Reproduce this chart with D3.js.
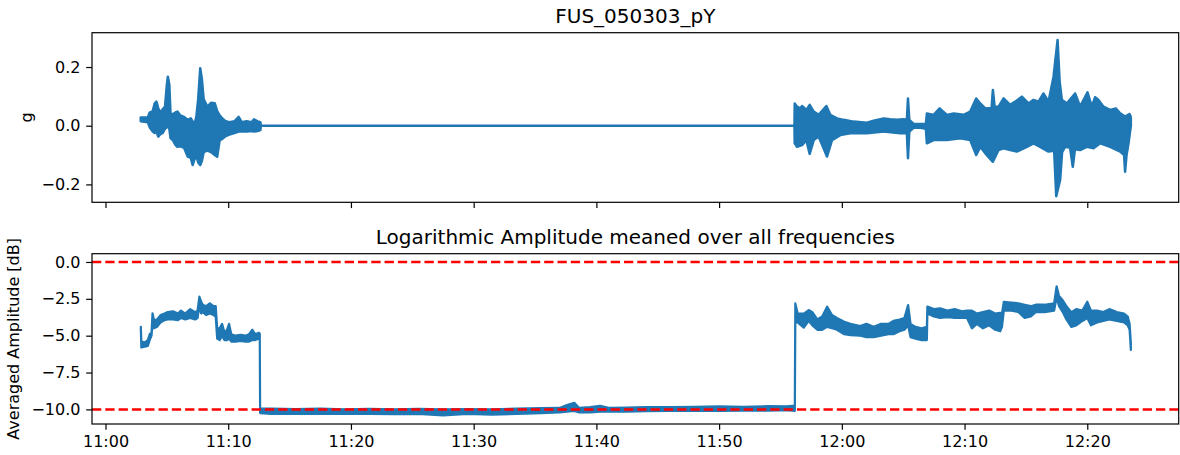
<!DOCTYPE html>
<html>
<head>
<meta charset="utf-8">
<script src="https://cdn.jsdelivr.net/npm/d3@7"></script>
<style>
  html, body { margin: 0; padding: 0; background: #fff; }
  svg { display: block; font-family: "DejaVu Sans", sans-serif; }
</style>
</head>
<body>
<svg id="chart" width="1180" height="455"></svg>
<script>
// Recording start (times below are minutes after 11:00)
const baseTime = new Date(2005, 2, 3, 11, 0, 0);

// Acceleration signal (g): upper envelope
const accUpT = [2.87, 3.45, 3.6, 3.85, 4.0, 4.15, 4.3, 4.45, 4.65, 4.85, 5.0, 5.08, 5.2, 5.3, 5.5, 5.7, 5.86, 6.1, 6.4, 6.7, 6.95, 7.1, 7.25, 7.4, 7.55, 7.72, 7.85, 8.0, 8.3, 8.6, 8.9, 9.1, 9.3, 9.5, 9.8, 10.1, 10.5, 10.85, 11.1, 11.5, 11.9, 12.1, 12.4, 12.62, 12.66,
  56.14, 56.16, 56.35, 56.62, 56.76, 57.11, 57.38, 57.71, 58.11, 58.74, 59.06, 59.61, 60.15, 60.96, 62.05, 62.59, 63.41, 63.95, 64.49, 65.03, 65.3, 65.39, 65.5, 65.85, 66.39, 66.85, 66.93, 67.48, 67.97, 68.56, 69.11, 69.92, 70.46, 70.95, 71.28, 71.69, 72.2, 72.31, 72.45, 72.77, 73.18, 73.72, 74.13, 74.67, 75.21, 75.62, 76.03, 76.43, 76.84, 77.25, 77.58, 77.75, 77.93, 78.34, 79.01, 79.42, 80.02, 80.37, 80.64, 80.91, 81.32, 81.86, 82.32, 82.68, 83.08, 83.44, 83.55];
const accUpV = [0.028, 0.028, 0.045, 0.05, 0.075, 0.082, 0.06, 0.045, 0.055, 0.065, 0.14, 0.167, 0.14, 0.04, 0.04, 0.045, 0.048, 0.035, 0.03, 0.02, 0.025, 0.015, 0.005, 0.03, 0.09, 0.196, 0.16, 0.09, 0.065, 0.078, 0.077, 0.05, 0.035, 0.026, 0.015, 0.012, 0.015, 0.03, 0.012, 0.015, 0.012, 0.022, 0.015, 0.012, 0,
  0, 0.076, 0.065, 0.059, 0.067, 0.054, 0.071, 0.048, 0.037, 0.067, 0.037, 0.025, 0.02, 0.014, 0.01, 0.017, 0.025, 0.022, 0.02, 0.022, 0.02, 0.093, 0.02, 0.006, 0.006, 0.006, 0.042, 0.037, 0.059, 0.037, 0.042, 0.037, 0.048, 0.093, 0.076, 0.059, 0.06, 0.122, 0.065, 0.065, 0.093, 0.071, 0.082, 0.099, 0.076, 0.088, 0.082, 0.11, 0.082, 0.167, 0.292, 0.15, 0.088, 0.076, 0.11, 0.065, 0.114, 0.065, 0.097, 0.088, 0.065, 0.054, 0.059, 0.042, 0.031, 0.04, 0.03];

// Acceleration signal (g): lower envelope
const accLoT = [2.87, 3.45, 3.6, 3.85, 4.0, 4.15, 4.3, 4.45, 4.65, 4.85, 5.0, 5.08, 5.2, 5.3, 5.5, 5.7, 5.86, 6.1, 6.4, 6.7, 6.95, 7.1, 7.25, 7.4, 7.55, 7.72, 7.85, 8.0, 8.3, 8.6, 8.9, 9.1, 9.3, 9.5, 9.8, 10.1, 10.5, 10.85, 11.1, 11.5, 11.9, 12.1, 12.4, 12.62, 12.66,
  56.14, 56.16, 56.35, 56.76, 57.11, 57.38, 57.71, 58.11, 58.79, 59.2, 59.88, 60.69, 62.05, 63.41, 64.76, 65.3, 65.39, 65.5, 65.85, 66.39, 66.85, 66.93, 67.48, 68.56, 69.65, 70.46, 70.95, 71.28, 71.69, 72.31, 72.77, 73.18, 73.72, 74.26, 75.08, 75.62, 76.16, 76.84, 77.3, 77.47, 77.79, 77.95, 78.2, 78.6, 78.82, 79.0, 79.42, 79.96, 80.51, 81.05, 81.86, 82.68, 83.0, 83.08, 83.2, 83.36, 83.55];
const accLoV = [0.015, 0.012, -0.005, -0.02, -0.025, -0.02, -0.037, -0.03, -0.025, -0.01, -0.005, 0.0, -0.01, -0.042, -0.05, -0.065, -0.072, -0.07, -0.075, -0.105, -0.11, -0.134, -0.115, -0.1, -0.125, -0.134, -0.12, -0.09, -0.085, -0.09, -0.1, -0.106, -0.05, -0.045, -0.035, -0.03, -0.025, -0.02, -0.02, -0.02, -0.018, -0.02, -0.018, -0.015, 0,
  0, -0.06, -0.072, -0.066, -0.049, -0.096, -0.049, -0.037, -0.105, -0.049, -0.032, -0.026, -0.026, -0.02, -0.026, -0.026, -0.111, -0.02, -0.007, -0.007, -0.01, -0.06, -0.049, -0.049, -0.043, -0.049, -0.1, -0.072, -0.094, -0.123, -0.083, -0.077, -0.083, -0.088, -0.072, -0.06, -0.072, -0.088, -0.085, -0.24, -0.185, -0.09, -0.072, -0.075, -0.14, -0.08, -0.083, -0.072, -0.077, -0.06, -0.072, -0.088, -0.1, -0.157, -0.1, -0.06, 0.0];

// Log amplitude meaned over all frequencies (dB): time, upper and lower extent
const ampT = [2.88, 2.92, 3.2, 3.45, 3.6, 3.75, 3.83, 3.95, 4.2, 4.5, 4.8, 5.07, 5.5, 5.9, 6.15, 6.5, 6.9, 7.3, 7.5, 7.65, 7.8, 7.92, 8.2, 8.5, 8.8, 8.98, 9.1, 9.3, 9.5, 9.7, 9.9, 10.07, 10.25, 10.6, 11.0, 11.4, 11.7, 11.97, 12.2, 12.5, 12.57,
  12.6, 13.5, 15.5, 17.5, 19.5, 21.5, 23.5, 25.5, 27.5, 29.5, 31.5, 33.5, 35.5, 37.0, 37.6, 38.2, 38.6, 39.5, 40.3, 41.0, 42.5, 44, 46, 48, 50, 52, 54, 55.5, 56.17,
  56.21, 56.4, 56.9, 57.3, 57.6, 58.0, 58.4, 58.8, 59.2, 59.6, 60.2, 60.7, 61.5, 62.0, 62.6, 63.2, 63.8, 64.2, 64.7, 65.1, 65.4, 65.6, 66.0, 66.5, 66.93, 66.97, 67.5, 68.0, 68.6, 69.2, 69.8, 70.2, 70.6, 71.0, 71.5, 72.0, 72.5, 72.9, 73.05, 73.2, 73.8, 74.4, 74.9, 75.4, 75.8, 76.5, 77.3, 77.5, 77.7, 78.0, 78.3, 78.7, 79.1, 79.6, 80.0, 80.3, 80.8, 81.3, 81.8, 82.4, 83.0, 83.3, 83.45, 83.55];
const ampHi = [-4.4, -5.4, -5.45, -5.3, -4.9, -4.8, -3.48, -3.94, -3.9, -3.6, -3.5, -3.4, -3.35, -3.5, -3.3, -3.5, -3.2, -3.4, -3.3, -2.35, -2.7, -2.9, -3.0, -2.8, -3.0, -3.0, -4.5, -4.5, -4.2, -4.8, -4.6, -4.2, -4.9, -5.0, -4.95, -5.0, -4.9, -4.6, -4.9, -4.8, -4.85,
  -9.95, -9.95, -9.98, -9.95, -10.0, -9.97, -10.0, -9.97, -10.0, -9.98, -10.0, -9.95, -9.92, -9.9, -9.7, -9.55, -9.9, -9.85, -9.75, -9.9, -9.88, -9.85, -9.85, -9.82, -9.8, -9.82, -9.78, -9.8, -9.75,
  -2.81, -3.48, -3.5, -3.26, -3.4, -3.9, -3.7, -3.03, -3.6, -3.8, -4.05, -4.2, -4.35, -4.2, -4.4, -4.2, -4.2, -4.0, -3.9, -3.8, -2.92, -4.2, -4.4, -4.5, -4.4, -3.03, -3.2, -3.15, -3.3, -3.2, -3.35, -3.3, -3.3, -3.5, -3.4, -3.3, -3.5, -3.45, -3.5, -2.7, -2.75, -2.8, -2.9, -3.0, -2.9, -2.9, -2.8, -1.65, -2.3, -2.6, -3.0, -3.4, -3.2, -3.3, -2.7, -3.3, -3.3, -3.4, -3.2, -3.4, -3.5, -3.7, -4.2, -5.5];
const ampLo = [-4.6, -5.8, -5.75, -5.7, -5.3, -5.0, -4.2, -4.5, -4.4, -4.1, -3.95, -3.9, -3.9, -3.95, -3.8, -3.9, -3.8, -3.9, -3.8, -3.0, -3.5, -3.4, -3.6, -3.5, -3.6, -3.7, -5.2, -5.3, -5.0, -5.3, -5.3, -5.2, -5.4, -5.4, -5.35, -5.4, -5.4, -5.3, -5.3, -5.2, -5.2,
  -10.25, -10.3, -10.3, -10.28, -10.3, -10.3, -10.32, -10.3, -10.4, -10.3, -10.35, -10.3, -10.25, -10.2, -10.15, -10.1, -10.2, -10.2, -10.15, -10.15, -10.15, -10.12, -10.1, -10.1, -10.1, -10.08, -10.08, -10.05, -10.1,
  -4.1, -4.1, -4.45, -4.0, -4.3, -4.6, -4.6, -4.4, -4.5, -4.6, -4.9, -4.96, -5.0, -5.1, -5.1, -5.0, -4.9, -4.9, -4.7, -4.6, -4.3, -5.1, -5.2, -5.3, -5.3, -3.5, -3.7, -3.8, -3.75, -3.8, -3.8, -3.8, -4.5, -4.2, -4.5, -4.3, -4.6, -4.7, -4.4, -3.3, -3.3, -3.4, -3.8, -3.7, -3.4, -3.4, -3.3, -2.4, -3.0, -3.4, -3.9, -4.4, -4.3, -4.0, -3.8, -4.3, -4.1, -4.0, -3.9, -4.0, -4.1, -4.3, -4.6, -5.97];

const accTicks = [-0.2, 0.0, 0.2];
const ampTicks = [0.0, -2.5, -5.0, -7.5, -10.0];
const refLevels = [0, -10];

const toDate = m => new Date(baseTime.getTime() + m * 60000);

const svg = d3.select("#chart");
const blue = "#1f77b4";
const left = 92, right = 1178.7;

const x = d3.scaleTime()
  .domain([toDate(-1.1), toDate(87.45)])
  .range([left, right]);

const panels = [
  { top: 32.7, bottom: 202.3, domain: [-0.261, 0.317], ticks: accTicks, title: "FUS_050303_pY", ylabel: "g", ylabelX: 26, showX: false },
  { top: 253.7, bottom: 424, domain: [-10.99, 0.56], ticks: ampTicks, title: "Logarithmic Amplitude meaned over all frequencies", ylabel: "Averaged Amplitude [dB]", ylabelX: 13, showX: true, refs: refLevels }
];

panels.forEach((p, i) => {
  p.y = d3.scaleLinear().domain(p.domain).range([p.bottom, p.top]);
  const y = p.y;
  const g = svg.append("g");
  p.g = g;

  const clipId = "clip" + i;
  svg.append("clipPath").attr("id", clipId)
    .append("rect").attr("x", left).attr("y", p.top)
    .attr("width", right - left).attr("height", p.bottom - p.top);

  if (i === 0) {
    // signal band: upper envelope forward, lower envelope back
    const up = accUpT.map((t, k) => [toDate(t), accUpV[k]]);
    const lo = accLoT.map((t, k) => [toDate(t), accLoV[k]]).reverse();
    const line = d3.line().x(d => x(d[0])).y(d => y(d[1]));
    g.append("path")
      .attr("clip-path", `url(#${clipId})`)
      .attr("d", line(up.concat(lo)) + "Z")
      .attr("fill", blue)
      .attr("stroke", blue)
      .attr("stroke-width", 2.5)
      .attr("stroke-linejoin", "round");
  } else {
    const rows = ampT.map((t, k) => ({ t: toDate(t), hi: ampHi[k], lo: ampLo[k] }));
    const area = d3.area().x(d => x(d.t)).y0(d => y(d.lo)).y1(d => y(d.hi));
    g.append("path")
      .attr("clip-path", `url(#${clipId})`)
      .attr("d", area(rows))
      .attr("fill", blue)
      .attr("stroke", blue)
      .attr("stroke-width", 2.2)
      .attr("stroke-linejoin", "round");
  }

  if (p.refs) {
    g.selectAll(".ref").data(p.refs).enter().append("line")
      .attr("x1", left).attr("x2", right)
      .attr("y1", d => y(d)).attr("y2", d => y(d))
      .attr("stroke", "red")
      .attr("stroke-width", 2.5)
      .attr("stroke-dasharray", "9.3,4");
  }

  // y axis
  const yAxis = d3.axisLeft(y).tickValues(p.ticks).tickFormat(d3.format(".1f"))
    .tickSize(5.8).tickPadding(5.8);
  const ya = g.append("g").attr("transform", `translate(${left},0)`).call(yAxis);
  ya.select(".domain").remove();
  ya.selectAll("text").attr("font-size", 16).attr("fill", "#000").attr("font-family", "DejaVu Sans");
  ya.selectAll("line").attr("stroke", "#000").attr("stroke-width", 1.2);

  // x axis (time labels only on the lower panel)
  const xAxis = d3.axisBottom(x).ticks(d3.timeMinute.every(10)).tickFormat(d3.timeFormat("%H:%M"))
    .tickSize(5.8).tickPadding(5.8);
  const xa = g.append("g").attr("transform", `translate(0,${p.bottom})`).call(xAxis);
  xa.select(".domain").remove();
  xa.selectAll("line").attr("stroke", "#000").attr("stroke-width", 1.2);
  if (p.showX) {
    xa.selectAll("text").attr("font-size", 16).attr("fill", "#000").attr("font-family", "DejaVu Sans");
  } else {
    xa.selectAll("text").remove();
  }

  // frame
  g.append("rect")
    .attr("x", left).attr("y", p.top)
    .attr("width", right - left).attr("height", p.bottom - p.top)
    .attr("fill", "none").attr("stroke", "#000").attr("stroke-width", 1.2);

  // title
  svg.append("text")
    .attr("x", (left + right) / 2).attr("y", p.top - 9.5)
    .attr("text-anchor", "middle")
    .attr("font-size", 20)
    .attr("fill", "#000")
    .text(p.title);

  // y label
  svg.append("text")
    .attr("transform", `translate(${p.ylabelX},${(p.top + p.bottom) / 2}) rotate(-90)`)
    .attr("text-anchor", "middle")
    .attr("dominant-baseline", "central")
    .attr("font-size", 16)
    .attr("fill", "#000")
    .text(p.ylabel);
});
</script>
</body>
</html>
